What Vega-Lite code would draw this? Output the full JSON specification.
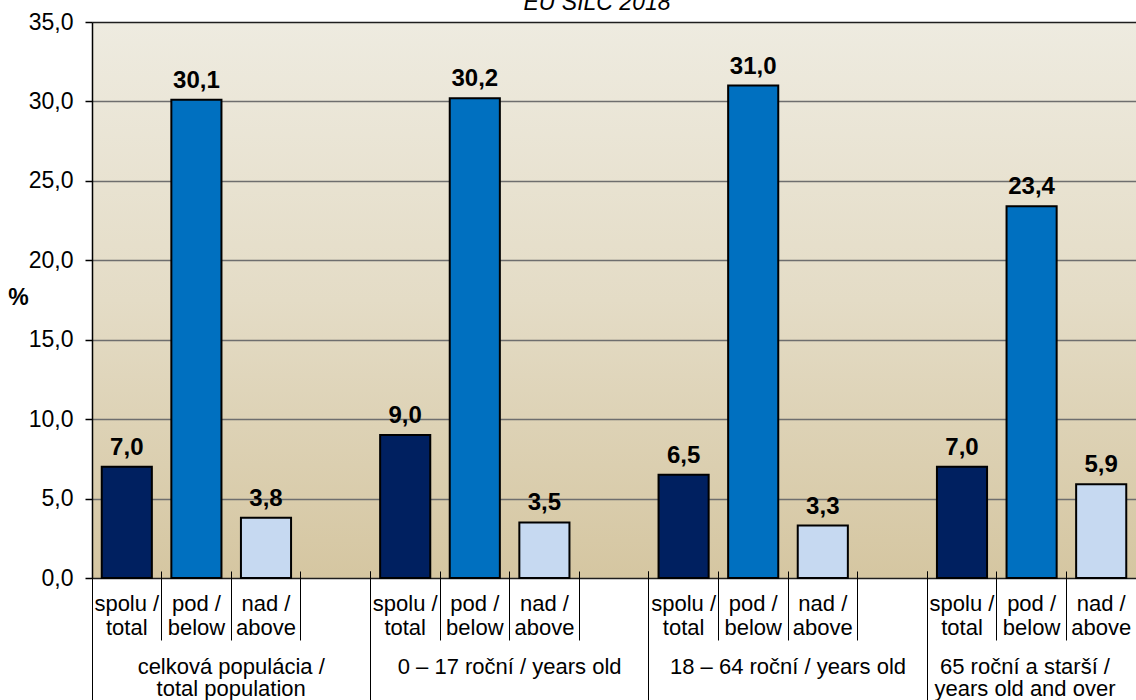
{
  "$schema": "https://vega.github.io/schema/vega-lite/v6.json",
  "autosize": {"type": "none"},
  "width": 1044,
  "height": 556,
  "padding": {"left": 92, "top": 22, "right": 0, "bottom": 122},
  "background": "white",
  "view": {"stroke": null, "fill": {"gradient": "linear", "x1": 0, "y1": 0, "x2": 0, "y2": 1, "stops": [{"offset": 0, "color": "#EEEBE0"}, {"offset": 0.5, "color": "#E4DCC6"}, {"offset": 1, "color": "#D5C6A1"}]}},
  "title": {"text": "EU SILC 2018", "fontSize": 23, "fontStyle": "italic", "fontWeight": "normal", "font": "Liberation Sans", "color": "#000", "anchor": "middle", "frame": "group", "baseline": "alphabetic", "offset": 4, "dx": -17, "dy": 26},
  "config": {"font": "Liberation Sans"},
  "data": {"values": [
    {"group": "celková populácia / total population", "slot": "1 spolu", "type": "spolu", "value": 7.0},
    {"group": "celková populácia / total population", "slot": "1 pod", "type": "pod", "value": 30.1},
    {"group": "celková populácia / total population", "slot": "1 nad", "type": "nad", "value": 3.8},
    {"group": "0 – 17 roční / years old", "slot": "2 spolu", "type": "spolu", "value": 9.0},
    {"group": "0 – 17 roční / years old", "slot": "2 pod", "type": "pod", "value": 30.2},
    {"group": "0 – 17 roční / years old", "slot": "2 nad", "type": "nad", "value": 3.5},
    {"group": "18 – 64 roční / years old", "slot": "3 spolu", "type": "spolu", "value": 6.5},
    {"group": "18 – 64 roční / years old", "slot": "3 pod", "type": "pod", "value": 31.0},
    {"group": "18 – 64 roční / years old", "slot": "3 nad", "type": "nad", "value": 3.3},
    {"group": "65 roční a starší / years old and over", "slot": "4 spolu", "type": "spolu", "value": 7.0},
    {"group": "65 roční a starší / years old and over", "slot": "4 pod", "type": "pod", "value": 23.4},
    {"group": "65 roční a starší / years old and over", "slot": "4 nad", "type": "nad", "value": 5.9}
  ]},
  "encoding": {
    "x": {"field": "slot", "type": "nominal", "sort": null,
      "scale": {"domain": ["1 spolu", "1 pod", "1 nad", "1 -", "2 spolu", "2 pod", "2 nad", "2 -", "3 spolu", "3 pod", "3 nad", "3 -", "4 spolu", "4 pod", "4 nad"], "paddingInner": 0, "paddingOuter": 0}}
  },
  "layer": [
    {
      "mark": {"type": "bar", "stroke": "#000", "strokeWidth": 2, "width": {"band": 0.72}},
      "encoding": {
        "x": {"field": "slot", "type": "nominal", "sort": null, "axis": null},
        "y": {"field": "value", "type": "quantitative",
          "scale": {"domain": [0, 35], "nice": false, "zero": true},
          "axis": {"title": "%", "titleAngle": 0, "titleFontSize": 23, "titleFontWeight": "bold", "titleColor": "#000", "titleX": -74, "titleY": 275, "titleAlign": "center", "titleBaseline": "middle",
            "values": [0, 5, 10, 15, 20, 25, 30, 35],
            "labelExpr": "replace(format(datum.value, '.1f'), '.', ',')",
            "labelFontSize": 23, "labelColor": "#000", "labelPadding": 12,
            "tickSize": 7, "tickColor": "#000", "tickWidth": 1.5,
            "domainColor": "#000", "domainWidth": 1.5,
            "grid": true, "gridWidth": 1.5, "gridOpacity": 1,
            "gridColor": {"condition": {"test": "datum.value === 0 || datum.value === 35", "value": "#1E1E1E"}, "value": "#6E6E6E"}}},
        "color": {"field": "type", "type": "nominal", "scale": {"domain": ["spolu", "pod", "nad"], "range": ["#002060", "#0070C0", "#C6D9F1"]}, "legend": null}
      }
    },
    {
      "mark": {"type": "text", "fontWeight": "bold", "fontSize": 24, "baseline": "alphabetic", "dy": -12, "color": "#000", "text": {"expr": "replace(format(datum.value, '.1f'), '.', ',')"}},
      "encoding": {
        "x": {"field": "slot", "type": "nominal", "sort": null, "axis": null},
        "y": {"field": "value", "type": "quantitative"}
      }
    },
    {
      "mark": {"type": "point", "opacity": 0},
      "encoding": {
        "x": {"field": "slot", "type": "nominal", "sort": null,
          "axis": {"title": null, "orient": "bottom", "offset": -7, "domain": false, "bandPosition": 0, "tickSize": 69, "tickColor": "#000", "tickWidth": 1,
            "labelExpr": "indexof(datum.value, 'spolu') >= 0 ? ['spolu /', 'total'] : indexof(datum.value, 'pod') >= 0 ? ['pod /', 'below'] : indexof(datum.value, 'nad') >= 0 ? ['nad /', 'above'] : ''",
            "labelFontSize": 22, "labelColor": "#000", "labelAngle": 0, "labelBaseline": "top", "labelLineHeight": 24, "labelPadding": -47, "labelLimit": 0, "labelBound": false, "labelOverlap": false, "labelFlush": false}}
      }
    },
    {
      "mark": {"type": "point", "opacity": 0},
      "encoding": {
        "x": {"field": "slot", "type": "nominal", "sort": null,
          "axis": {"title": null, "orient": "bottom", "offset": -7, "domain": false, "bandPosition": 0, "tickSize": 129, "tickColor": "#000", "tickWidth": 1,
            "values": ["1 spolu", "2 spolu", "3 spolu", "4 spolu"],
            "labelExpr": "datum.value == '1 spolu' ? ['celková populácia /', 'total population'] : datum.value == '2 spolu' ? '0 – 17 roční / years old' : datum.value == '3 spolu' ? '18 – 64 roční / years old' : ['65 roční a starší /', 'years old and over']",
            "labelOffset": {"condition": {"test": "datum.value == '4 spolu'", "value": 63}, "value": 104.4},
            "labelFontSize": 22, "labelColor": "#000", "labelAngle": 0, "labelBaseline": "top", "labelLineHeight": 22, "labelPadding": -44, "labelLimit": 0, "labelBound": false, "labelOverlap": false, "labelFlush": false}}
      }
    }
  ],
  "resolve": {"axis": {"x": "independent"}}
}
